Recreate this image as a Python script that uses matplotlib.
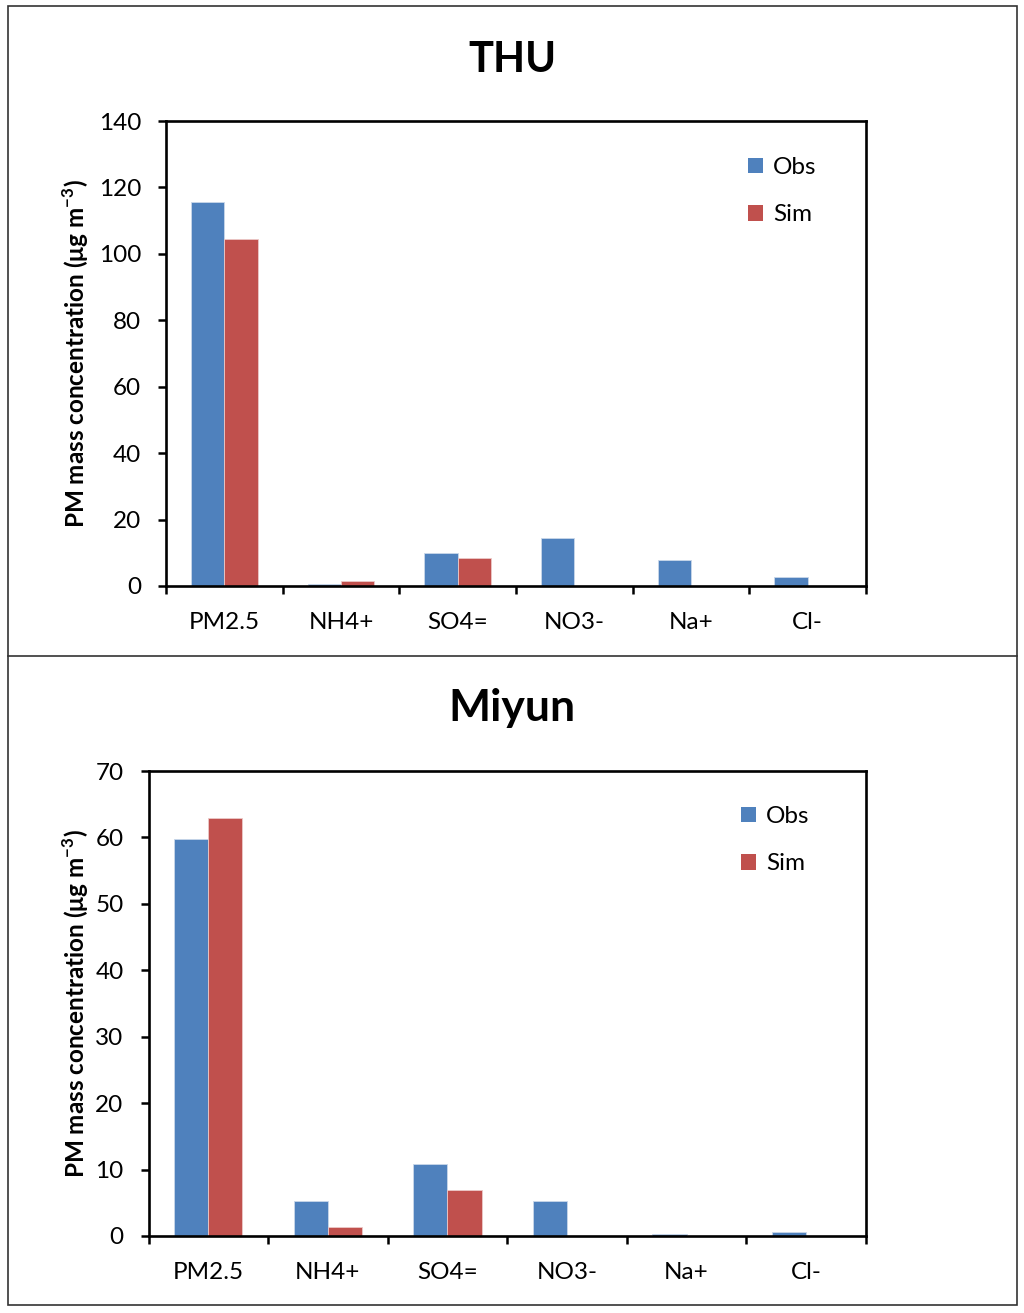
import matplotlib
matplotlib.use("Agg")
import matplotlib.pyplot as plt
from matplotlib.patches import Rectangle, Patch
from matplotlib.lines import Line2D
import numpy as np

plt.rcParams['font.family'] = ['Lato', 'DejaVu Sans']
plt.rcParams['mathtext.fontset'] = 'custom'
plt.rcParams['mathtext.rm'] = 'Lato'
plt.rcParams['mathtext.bf'] = 'Lato:bold'

categories = ["PM2.5", "NH4+", "SO4=", "NO3-", "Na+", "Cl-"]
thu_obs = [115.6, 0.6, 9.8, 14.5, 7.7, 2.6]
thu_sim = [104.5, 1.6, 8.5, 0.0, 0.0, 0.0]
miyun_obs = [59.8, 5.2, 10.9, 5.2, 0.25, 0.6]
miyun_sim = [62.9, 1.3, 6.9, 0.0, 0.0, 0.0]
series_names = ["Obs", "Sim"]
titles = ["THU", "Miyun"]
ylabel = r"PM mass concentration (μg m$^{\mathbf{-3}}$)"

C_OBS = "#4F81BD"
C_SIM = "#C0504D"

W, H = 1024, 1313
fig = plt.figure(figsize=(W / 100, H / 100), dpi=100)

def fx(px):
    return px / W

def fy(py):
    return 1 - py / H

panels = [
    dict(obs=thu_obs, sim=thu_sim, title=titles[0], left=166, right=866, top=121, bottom=586,
         ymax=140, step=20, title_y=60, leg_x=748, leg_y=[165, 213], tsize=30),
    dict(obs=miyun_obs, sim=miyun_sim, title=titles[1], left=148.5, right=866, top=771, bottom=1236,
         ymax=70, step=10, title_y=708, leg_x=741, leg_y=[814, 862], tsize=32),
]

n = len(categories)
x = np.arange(n)
bw = 1 / 3.5

for p in panels:
    ax = fig.add_axes([fx(p['left']), fy(p['bottom']), fx(p['right'] - p['left']),
                       (p['bottom'] - p['top']) / H])
    ax.bar(x - bw / 2, p['obs'], bw, color=C_OBS, edgecolor='#c9d7ea', linewidth=0.6)
    ax.bar(x + bw / 2, p['sim'], bw, color=C_SIM, edgecolor='#ecc9c8', linewidth=0.6)
    ax.set_xlim(-0.5, n - 0.5)
    ax.set_ylim(0, p['ymax'])
    ax.set_yticks(np.arange(0, p['ymax'] + 1, p['step']))
    ax.set_xticks(np.arange(-0.5, n, 1.0))
    ax.set_xticklabels([])
    ax.set_xticks(x, minor=True)
    ax.set_xticklabels(categories, minor=True)
    ax.tick_params(axis='x', which='minor', length=0, pad=19, labelsize=17.5)
    ax.tick_params(axis='x', which='major', length=6, width=1.8, direction='out')
    ax.tick_params(axis='y', length=6, width=1.8, direction='out', labelsize=17.5, pad=12)
    for s in ax.spines.values():
        s.set_linewidth(1.9)
    handles = [Patch(facecolor=C_OBS), Patch(facecolor=C_SIM)]
    ax.legend(handles, series_names, loc='upper left',
              bbox_to_anchor=((p['leg_x'] - p['left']) / (p['right'] - p['left']),
                              (p['bottom'] - (p['leg_y'][0] - 8)) / (p['bottom'] - p['top'])),
              frameon=False, fontsize=17.5, handlelength=0.62, handleheight=0.62,
              handletextpad=0.4, labelspacing=1.08, borderpad=0, borderaxespad=0)
    fig.text(0.5, fy(p['title_y']), p['title'], ha='center', va='center',
             fontsize=p['tsize'], fontweight='bold')
    fig.text(fx(76), fy((p['top'] + p['bottom']) / 2), ylabel, rotation=90,
             ha='center', va='center', fontsize=17.5, fontweight='bold')

# outer frame and divider
fig.add_artist(Rectangle((fx(8), fy(1305)), fx(1016.5 - 8), (1305 - 5.5) / H,
                         transform=fig.transFigure, fill=False, edgecolor='#333333', linewidth=1.2))
fig.add_artist(Line2D([fx(8), fx(1016.5)], [fy(655.5), fy(655.5)], transform=fig.transFigure,
                      color='#333333', linewidth=1.2))

fig.savefig("out.png", dpi=100)
